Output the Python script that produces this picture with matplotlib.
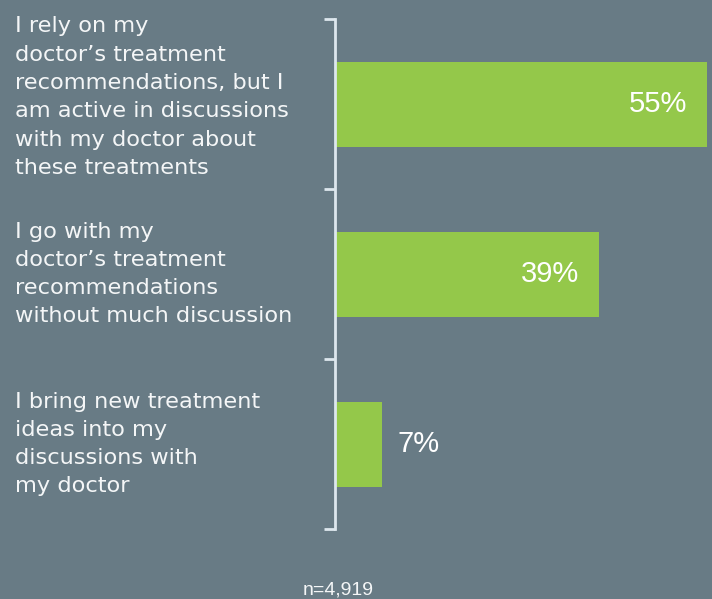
import matplotlib
matplotlib.use("Agg")
import matplotlib.pyplot as plt

# survey answers, top to bottom
labels = [
    "I rely on my\ndoctor\u2019s treatment\nrecommendations, but I\nam active in discussions\nwith my doctor about\nthese treatments",
    "I go with my\ndoctor\u2019s treatment\nrecommendations\nwithout much discussion",
    "I bring new treatment\nideas into my\ndiscussions with\nmy doctor",
]
shares = [55, 39, 7]
note = "n=4,919"

bg = "#687b85"
green = "#94c84a"
axis_col = "#dde7ee"
txt_col = "#f4f6f7"

fig = plt.figure(figsize=(7.12, 5.99), dpi=100, facecolor=bg)
ax = fig.add_axes([335/712, 70/599, 372/712, 510/599])
ax.set_facecolor(bg)

ypos = list(range(len(shares)))
ax.barh(ypos, shares, height=0.5, color=green)
ax.set_xlim(0, 55)
ax.set_ylim(len(shares) - 0.5, -0.5)

# category boundaries as ticks on the left spine
ax.set_yticks([i - 0.5 for i in range(len(shares) + 1)])
ax.set_yticklabels([])
ax.tick_params(axis="y", length=8, width=2, color=axis_col)
ax.set_xticks([])
for s in ["top", "right", "bottom"]:
    ax.spines[s].set_visible(False)
ax.spines["left"].set_color(axis_col)
ax.spines["left"].set_linewidth(2)

for y, v in zip(ypos, shares):
    txt = f"{v}%"
    if v > 20:
        ax.annotate(txt, (v, y), xytext=(-14, 0), textcoords="offset points",
                    ha="right", va="center", color="white", fontsize=21,
                    family="Liberation Sans")
    else:
        ax.annotate(txt, (v, y), xytext=(11, 0), textcoords="offset points",
                    ha="left", va="center", color="white", fontsize=21,
                    family="Liberation Sans")

# left side answer labels (long one sits a bit higher)
for y, lab in zip(ypos, labels):
    dy = 5 if lab.count("\n") > 4 else 0
    ax.annotate(lab, (0, y), xycoords="data", xytext=(15/712, dy),
                textcoords=("figure fraction", "offset points"),
                ha="left", va="center", color=txt_col, fontsize=16.2,
                family="DejaVu Sans", linespacing=1.52)

fig.text(338/712, 1 - 590/599, note, ha="center", va="center",
         color=txt_col, fontsize=14, family="Liberation Sans")

fig.savefig("out.png", dpi=100, facecolor=bg)
